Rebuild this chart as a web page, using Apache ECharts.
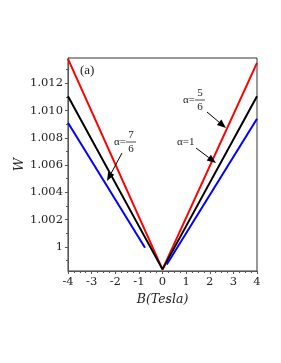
<!DOCTYPE html>
<html><head><meta charset="utf-8">
<script src="https://cdn.jsdelivr.net/npm/echarts@6/dist/echarts.min.js"></script>
<style>html,body{margin:0;padding:0;background:#fff}#c{width:281px;height:363px}</style>
</head><body><div id="c"></div>
<script>
// Data
const bRed = [-4, 0, 4];
const wRed = [1.0138, 0.99834, 1.0135];
const bBlack = [-4, 0, 4];
const wBlack = [1.01105, 0.99834, 1.01105];
const bBlueLeft = [-4, -0.74];
const wBlueLeft = [1.0091, 0.99993];
const bBlueRight = [0.18, 4];
const wBlueRight = [0.9987, 1.0094];
const xTicks = [-4, -3, -2, -1, 0, 1, 2, 3, 4];
const yTicks = [1, 1.002, 1.004, 1.006, 1.008, 1.010, 1.012];
const yMinorTicks = [0.999, 1.001, 1.003, 1.005, 1.007, 1.009, 1.011, 1.013];

const pts = (xs, ys) => xs.map((x, i) => [x, ys[i]]);
const chart = echarts.init(document.getElementById('c'));
const serif = 'DejaVu Serif';
const axisCol = '#555';
const yMin = 0.99822, yMax = 1.01386;
const mk = (name, xs, ys, color) => ({
  name, type: 'line', data: pts(xs, ys), symbol: 'none',
  lineStyle: { color, width: 2 }, silent: true, animation: false
});
chart.setOption({
  animation: false,
  grid: { left: 68, right: 24, top: 58, bottom: 92, show: true, borderColor: '#333', borderWidth: 1 },
  xAxis: {
    type: 'value', min: -4, max: 4, interval: 1,
    name: '{n|B(}{i|Tesla}{n|)}', nameLocation: 'middle', nameGap: 22, nameMoveOverlap: false,
    nameTextStyle: { rich: {
      n: { fontFamily: serif, fontSize: 12.5, color: '#222', fontStyle: 'italic' },
      i: { fontFamily: serif, fontSize: 12.5, color: '#222', fontStyle: 'italic' } } },
    axisLine: { onZero: false, lineStyle: { color: axisCol } },
    axisTick: { show: true, length: 3, lineStyle: { color: axisCol } },
    minorTick: { show: true, splitNumber: 4, length: 2, lineStyle: { color: axisCol } },
    splitLine: { show: false },
    axisLabel: { fontFamily: serif, fontSize: 11.5, color: '#222', margin: 5,
      formatter: v => xTicks.includes(v) ? String(v) : '' }
  },
  yAxis: [{
    type: 'value', min: yMin, max: yMax, position: 'left',
    name: 'W', nameLocation: 'middle', nameGap: 42, nameRotate: 90, nameMoveOverlap: false,
    nameTextStyle: { fontFamily: serif, fontSize: 13, fontStyle: 'italic', color: '#222' },
    axisLine: { show: true, onZero: false, lineStyle: { color: axisCol } },
    axisTick: { show: true, length: 3, lineStyle: { color: axisCol }, customValues: yTicks },
    minorTick: { show: false },
    splitLine: { show: false },
    axisLabel: { fontFamily: serif, fontSize: 11.5, color: '#222', margin: 5,
      customValues: yTicks,
      formatter: v => { const s = v.toFixed(3); return Math.abs(v - 1) < 1e-9 ? '1' : s; } }
  }, {
    type: 'value', min: yMin, max: yMax, position: 'left', offset: 0,
    axisLine: { show: false, onZero: false },
    axisTick: { show: true, length: 2, lineStyle: { color: axisCol }, customValues: yMinorTicks },
    axisLabel: { show: false, customValues: yMinorTicks },
    splitLine: { show: false }
  }],
  series: [
    mk('red', bRed, wRed, '#ff0000'),
    mk('black', bBlack, wBlack, '#000000'),
    mk('blueL', bBlueLeft, wBlueLeft, '#0000ff'),
    mk('blueR', bBlueRight, wBlueRight, '#0000ff')
  ]
});

// Annotations (pixel positions)
const tf = 'Liberation Serif';
function arrow(x1, y1, x2, y2) {
  const a = Math.atan2(y2 - y1, x2 - x1), L = 9, W = 3.5;
  const bx = x2 - L * Math.cos(a), by = y2 - L * Math.sin(a);
  const px = -Math.sin(a) * W, py = Math.cos(a) * W;
  return [
    { type: 'line', shape: { x1, y1, x2: bx, y2: by }, style: { stroke: '#000', lineWidth: 1 }, silent: true, z: 10 },
    { type: 'polygon', shape: { points: [[x2, y2], [bx + px, by + py], [bx - px, by - py]] }, style: { fill: '#000' }, silent: true, z: 10 }
  ];
}
function frac(x, y, num, den) {
  return [
    { type: 'text', x, y, style: { text: 'α=', font: '11px ' + tf, fill: '#222', verticalAlign: 'middle' }, silent: true },
    { type: 'text', x: x + 17, y: y - 7, style: { text: num, font: '11px ' + tf, fill: '#222', align: 'center', verticalAlign: 'middle' }, silent: true },
    { type: 'line', shape: { x1: x + 12, y1: y, x2: x + 22, y2: y }, style: { stroke: '#222', lineWidth: 0.8 }, silent: true },
    { type: 'text', x: x + 17, y: y + 7, style: { text: den, font: '11px ' + tf, fill: '#222', align: 'center', verticalAlign: 'middle' }, silent: true }
  ];
}
const g = [
  { type: 'text', x: 80, y: 71, style: { text: '(a)', font: '13px ' + tf, fill: '#222', verticalAlign: 'middle' }, silent: true },
  ...frac(114, 142, '7', '6'),
  ...arrow(122, 153, 107, 181),
  ...frac(183, 100, '5', '6'),
  ...arrow(207, 112, 226, 128),
  { type: 'text', x: 177, y: 142, style: { text: 'α=1', font: '11px ' + tf, fill: '#222', verticalAlign: 'middle' }, silent: true },
  ...arrow(196, 148, 216, 163)
];
chart.setOption({ graphic: g });
</script></body></html>
